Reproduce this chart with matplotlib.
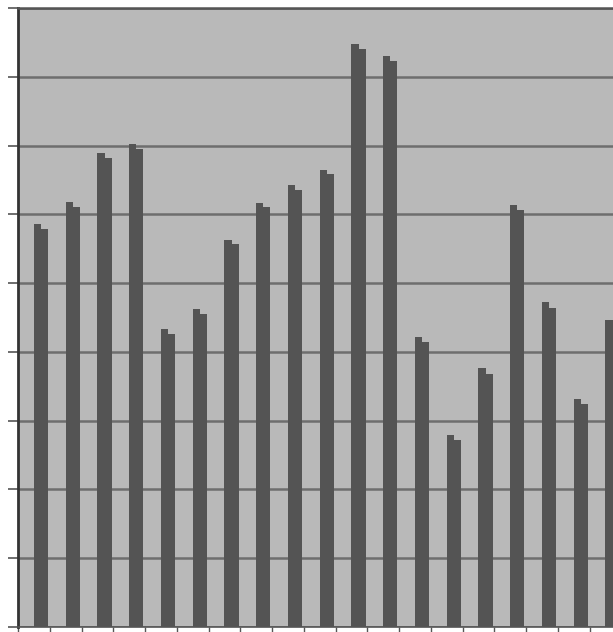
import matplotlib.pyplot as plt
import numpy as np

# two series per category (grid step = 10)
series_a = [58.6, 61.8, 68.9, 70.2, 43.3, 46.2, 56.3, 61.7, 64.2, 66.4,
            84.8, 83.0, 42.2, 27.9, 37.6, 61.3, 47.2, 33.1, 44.6]
series_b = [57.8, 61.1, 68.2, 69.5, 42.6, 45.5, 55.7, 61.1, 63.5, 65.8,
            84.0, 82.3, 41.5, 27.2, 36.8, 60.6, 46.4, 32.4, 43.9]
y_ticks = list(range(0, 91, 10))

n = len(series_a)
x = np.arange(n)

fig = plt.figure(figsize=(6.13, 6.32), dpi=100)
ax = fig.add_axes([18 / 613, 5 / 632, (n * 31.75) / 613, 619 / 632])
ax.set_facecolor('#b9b9b9')

w = 0.225
ax.bar(x + 0.5, series_a, width=w, align='edge', color='#545454', zorder=3)
ax.bar(x + 0.5 + w, series_b, width=w, align='edge', color='#545454', zorder=3)

ax.set_xlim(0, n)
ax.set_ylim(0, 90)
ax.set_yticks(y_ticks)
ax.set_xticks(np.arange(n + 1))
ax.set_yticklabels([])
ax.set_xticklabels([])
ax.yaxis.grid(True, color='#6e6e6e', linewidth=1.8, zorder=1)
ax.tick_params(axis='y', direction='out', length=7, width=1.2, color='#555555')
ax.tick_params(axis='x', direction='out', length=4, width=1.0, color='#555555')

ax.spines['left'].set_color('#333333')
ax.spines['left'].set_linewidth(2)
ax.spines['top'].set_color('#555555')
ax.spines['top'].set_linewidth(1.8)
ax.spines['bottom'].set_color('#555555')
ax.spines['bottom'].set_linewidth(1.2)
ax.spines['right'].set_visible(False)

fig.savefig('out.png', dpi=100)
